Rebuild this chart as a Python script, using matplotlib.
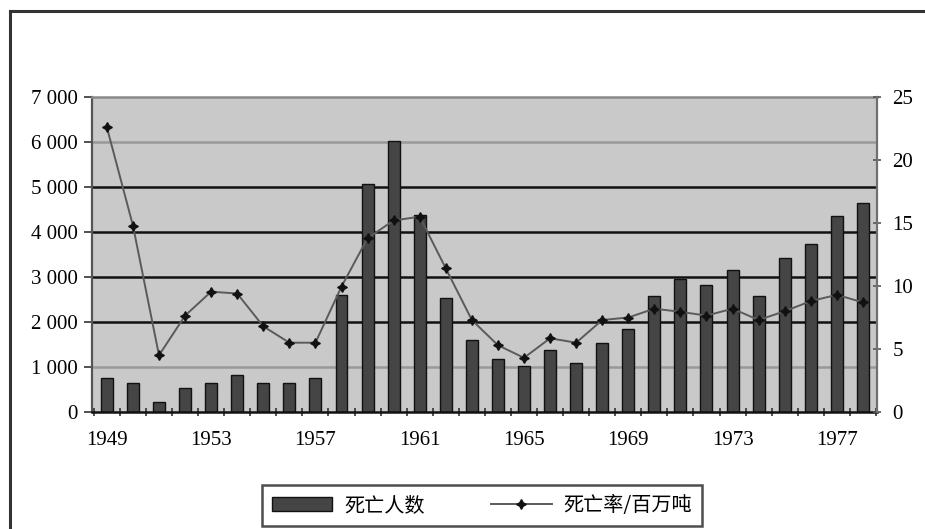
import matplotlib.pyplot as plt
import numpy as np
from matplotlib.lines import Line2D
from matplotlib.ticker import FuncFormatter

years = list(range(1949, 1979))
deaths = [760, 650, 230, 525, 650, 815, 650, 650, 750, 2600,
          5060, 6030, 4380, 2525, 1600, 1170, 1020, 1380, 1100, 1525,
          1840, 2585, 2950, 2820, 3155, 2585, 3430, 3725, 4355, 4650]
rate = [22.6, 14.8, 4.5, 7.65, 9.55, 9.4, 6.8, 5.5, 5.5, 9.95,
        13.8, 15.2, 15.5, 11.4, 7.3, 5.3, 4.3, 5.85, 5.5, 7.3,
        7.5, 8.2, 7.95, 7.65, 8.2, 7.3, 8.0, 8.8, 9.3, 8.7]
label_years = years[::4]
bar_label = '死亡人数'
line_label = '死亡率/百万吨'

serif = 'Liberation Serif'
cjk = ['Noto Sans CJK SC', 'DejaVu Sans']

fig = plt.figure(figsize=(9.25, 5.29), dpi=100)
ax = fig.add_axes([92 / 925, 1 - 412 / 529, 785 / 925, 315 / 529])
ax.set_facecolor('#c9c9c9')

# horizontal grid, mixed tones
grid_colors = {1000: '#999999', 2000: '#111111', 3000: '#111111',
               4000: '#111111', 5000: '#111111', 6000: '#999999'}
for yv, c in grid_colors.items():
    ax.axhline(yv, color=c, lw=1.8, zorder=1)

x = np.array(years)
bars = ax.bar(x, deaths, width=0.46, color='#454545', edgecolor='#111111',
              linewidth=1.0, zorder=2, label=bar_label)

ax.set_xlim(1948.43, 1978.54)
ax.set_ylim(0, 7000)
ax.set_yticks(range(0, 7001, 1000))
ax.yaxis.set_major_formatter(FuncFormatter(lambda v, p: format(int(v), ',').replace(',', ' ')))
ax.set_xticks(label_years)
ax.set_xticks(np.arange(1948.5, 1979, 1.0), minor=True)
ax.tick_params(axis='x', which='major', length=0, pad=14, labelsize=15)
ax.tick_params(axis='x', which='minor', length=6, width=1.2, color='#333333', direction='inout')
ax.tick_params(axis='y', length=6, width=1.2, color='#333333', pad=4, labelsize=15)
for lab in ax.get_xticklabels() + ax.get_yticklabels():
    lab.set_fontfamily(serif)

ax.spines['left'].set_color('#555555')
ax.spines['left'].set_linewidth(1.6)
ax.spines['bottom'].set_color('#111111')
ax.spines['bottom'].set_linewidth(1.8)
ax.spines['top'].set_color('#8a8a8a')
ax.spines['top'].set_linewidth(1.8)
ax.spines['right'].set_visible(False)

ax2 = ax.twinx()
ln, = ax2.plot(x, rate, color='#5a5a5a', lw=1.4, marker=(4, 1, 0), markersize=7,
               markerfacecolor='#111111', markeredgecolor='#111111', zorder=3,
               label=line_label)
ax2.set_ylim(0, 25)
ax2.set_yticks(range(0, 26, 5))
ax2.tick_params(axis='y', length=6, width=1.2, color='#555555', direction='inout',
                pad=8, labelsize=15)
for lab in ax2.get_yticklabels():
    lab.set_fontfamily(serif)
ax2.spines['right'].set_color('#707070')
ax2.spines['right'].set_linewidth(1.6)
for s in ['left', 'top', 'bottom']:
    ax2.spines[s].set_visible(False)

leg = fig.legend([bars, ln], [bar_label, line_label], loc='upper center',
                 bbox_to_anchor=(482 / 925, 1 - 485 / 529), ncol=2,
                 prop={'family': cjk, 'size': 14.5}, frameon=True, fancybox=False,
                 handlelength=3.0, handletextpad=0.6, columnspacing=3.3,
                 borderpad=0.5, borderaxespad=0)
leg.get_frame().set_edgecolor('#222222')
leg.get_frame().set_linewidth(1.8)

# outer frame on top and left
fig.add_artist(Line2D([10 / 925, 1], [1 - 11 / 529, 1 - 11 / 529],
                      color='#333333', lw=2.2, transform=fig.transFigure))
fig.add_artist(Line2D([10 / 925, 10 / 925], [0, 1 - 11 / 529],
                      color='#333333', lw=2.2, transform=fig.transFigure))

fig.savefig('out.png', dpi=100)
